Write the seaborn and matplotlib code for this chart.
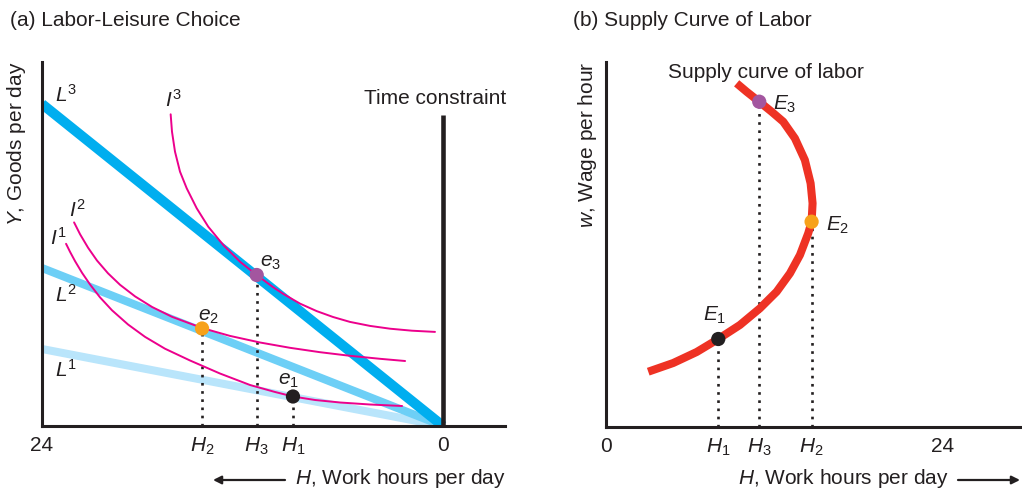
import matplotlib
matplotlib.use("Agg")
import matplotlib.pyplot as plt
import seaborn as sns

# ---------------- panel (a): labor-leisure choice ----------------
# hours worked H (24 on the left, 0 on the right), goods Y in arbitrary units
budget_labels = ["$L^1$", "$L^2$", "$L^3$"]
budget_goods_at_24 = [7.7, 15.8, 32.2]

equil_labels = ["$e_1$", "$e_2$", "$e_3$"]
hour_labels = ["$H_1$", "$H_2$", "$H_3$"]
equil_hours = [8.98, 14.42, 11.15]
equil_goods = [2.95, 9.75, 15.1]

indiff_labels = ["$I^1$", "$I^2$", "$I^3$"]
i1_hours = [22.56, 22.32, 22.02, 21.60, 21.12, 20.53, 19.81, 18.85, 17.83, 16.64,
            15.14, 13.35, 11.55, 10.05, 8.98, 7.66, 6.16, 4.37, 2.45]
i1_goods = [18.22, 17.41, 16.48, 15.31, 14.14, 12.87, 11.57, 10.15, 8.91, 7.73,
            6.55, 5.25, 4.10, 3.40, 2.95, 2.60, 2.35, 2.15, 2.00]
i2_hours = [22.08, 21.72, 21.24, 20.71, 20.05, 19.33, 18.43, 17.41, 16.22, 14.42,
            12.75, 10.95, 9.16, 7.36, 5.57, 3.77, 2.27]
i2_goods = [20.36, 19.17, 17.82, 16.55, 15.27, 14.12, 12.96, 11.90, 10.92, 9.80,
            9.01, 8.35, 7.82, 7.38, 7.02, 6.72, 6.50]
i3_hours = [16.30, 16.22, 16.04, 15.74, 15.34, 14.74, 14.05, 13.15, 12.15, 11.15,
            10.16, 9.56, 8.56, 7.56, 6.58, 5.57, 4.37, 3.17, 1.86, 0.48]
i3_goods = [31.17, 29.43, 27.43, 25.43, 23.77, 21.77, 19.93, 18.10, 16.43, 15.10,
            13.87, 13.21, 12.24, 11.49, 10.90, 10.41, 10.01, 9.73, 9.53, 9.41]

time_constraint_top = 31.1

# ---------------- panel (b): supply curve of labor ----------------
supply_hours = [3.01, 4.79, 6.46, 8.00, 9.54, 10.97, 12.16, 13.11, 13.82, 14.41,
                14.65, 14.72, 14.58, 14.17, 13.46, 12.63, 11.80, 10.92, 10.02, 9.31]
supply_wage = [5.53, 6.40, 7.50, 8.80, 10.20, 11.87, 13.53, 15.37, 17.20, 19.37,
               20.53, 22.37, 24.37, 26.70, 28.87, 30.53, 31.53, 32.53, 33.53, 34.37]

E_labels = ["$E_1$", "$E_2$", "$E_3$"]
E_hours = [8.00, 14.65, 10.92]
E_wage = [8.80, 20.53, 32.53]

# styles
BLUES = ["#b9e5fb", "#6dcff6", "#00aeef"]
BLUE_LW = [5.8, 5.8, 7.2]
MAGENTA = "#ec008c"
RED = "#ee3224"
INK = "#231f20"
DOT_COLORS = [INK, "#f7a11a", "#a3569f"]
FS = 15
DOTTED = (0, (1, 2.1))

sns.set_theme(style="white")
plt.rcParams["font.family"] = ["Liberation Sans", "DejaVu Sans"]
plt.rcParams["mathtext.fontset"] = "custom"
plt.rcParams["mathtext.rm"] = "Liberation Sans"
plt.rcParams["mathtext.it"] = "Liberation Sans:italic"

W, H = 1022, 490
fig = plt.figure(figsize=(W / 100, H / 100), dpi=100)


def px_axes(x0, y0, x1, y1):
    return fig.add_axes([x0 / W, 1 - y1 / H, (x1 - x0) / W, (y1 - y0) / H])


def style_axes(ax):
    for side in ["top", "right"]:
        ax.spines[side].set_visible(False)
    for side in ["left", "bottom"]:
        ax.spines[side].set_color(INK)
        ax.spines[side].set_linewidth(2.2)
    ax.set_yticks([])
    ax.tick_params(axis="x", length=0, pad=7, labelsize=FS, colors=INK)
    ax.set_xlabel("")
    ax.set_ylabel("")


def label(ax, x, y, s):
    ax.text(x, y, s, fontsize=FS, ha="left", va="center", color=INK)


# ---- left panel ----
axa = px_axes(42, 62, 505, 426)
axa.set_xlim(24, -3.71)
axa.set_ylim(0, 36.4)

for g, c, lw in zip(budget_goods_at_24, BLUES, BLUE_LW):
    sns.lineplot(x=[24, 0], y=[g, 0], ax=axa, color=c, linewidth=lw,
                 solid_capstyle="butt", sort=False, estimator=None, zorder=2)

for hh, gg in [(i1_hours, i1_goods), (i2_hours, i2_goods), (i3_hours, i3_goods)]:
    sns.lineplot(x=hh, y=gg, ax=axa, color=MAGENTA, linewidth=1.4,
                 solid_joinstyle="round", sort=False, estimator=None, zorder=3)

axa.vlines(equil_hours, 0, equil_goods, colors=INK, linewidth=1.9,
           linestyles=DOTTED, zorder=2)
axa.vlines(0, 0, time_constraint_top, colors=INK, linewidth=3.3, zorder=4)

sns.scatterplot(x=equil_hours, y=equil_goods, hue=equil_labels, palette=DOT_COLORS,
                s=105, linewidth=0, ax=axa, legend=False, zorder=5)

label(axa, 23.22, 33.1, budget_labels[2])
label(axa, 23.22, 13.1, budget_labels[1])
label(axa, 23.22, 5.6, budget_labels[0])
label(axa, 16.64, 32.6, indiff_labels[2])
label(axa, 22.38, 21.6, indiff_labels[1])
label(axa, 23.52, 18.8, indiff_labels[0])
label(axa, 9.87, 4.6, equil_labels[0])
label(axa, 14.66, 11.0, equil_labels[1])
label(axa, 10.95, 16.4, equil_labels[2])
axa.text(0.5, 32.8, "Time constraint", fontsize=FS, ha="center", va="center", color=INK)

axa.set_xticks([24] + equil_hours + [0])
axa.set_xticklabels(["24"] + hour_labels + ["0"])
style_axes(axa)

# ---- right panel ----
axb = px_axes(606, 62, 1020, 427)
axb.set_xlim(0, 29.5)
axb.set_ylim(0, 36.5)

sns.lineplot(x=supply_hours, y=supply_wage, ax=axb, color=RED, linewidth=5.8,
             solid_capstyle="butt", solid_joinstyle="round", sort=False,
             estimator=None, zorder=3)
axb.vlines(E_hours, 0, E_wage, colors=INK, linewidth=1.9,
           linestyles=DOTTED, zorder=2)
sns.scatterplot(x=E_hours, y=E_wage, hue=E_labels, palette=DOT_COLORS,
                s=105, linewidth=0, ax=axb, legend=False, zorder=5)

label(axb, 6.91, 11.2, E_labels[0])
label(axb, 15.67, 20.2, E_labels[1])
label(axb, 11.89, 32.3, E_labels[2])
label(axb, 4.42, 35.5, "Supply curve of labor")

axb.set_xticks([0] + E_hours + [24])
axb.set_xticklabels(["0"] + hour_labels + ["24"])
style_axes(axb)

# ---- titles, axis labels, arrows ----
fig.text(10 / W, 1 - 20 / H, "(a) Labor-Leisure Choice", fontsize=FS,
         ha="left", va="center", color=INK)
fig.text(573 / W, 1 - 20 / H, "(b) Supply Curve of Labor", fontsize=FS,
         ha="left", va="center", color=INK)

fig.text(17 / W, 1 - 62 / H, "$Y$, Goods per day", fontsize=FS, rotation=90,
         ha="center", va="top", color=INK)
fig.text(587 / W, 1 - 62 / H, "$w$, Wage per hour", fontsize=FS, rotation=90,
         ha="center", va="top", color=INK)

fig.text(506 / W, 1 - 478 / H, "$H$, Work hours per day", fontsize=FS,
         ha="right", va="center", color=INK)
fig.text(738 / W, 1 - 478 / H, "$H$, Work hours per day", fontsize=FS,
         ha="left", va="center", color=INK)

arrow = dict(arrowstyle="-|>", color=INK, lw=1.6, mutation_scale=12,
             shrinkA=0, shrinkB=0)
axa.annotate("", xy=(213 / W, 1 - 480 / H), xytext=(285 / W, 1 - 480 / H),
             xycoords="figure fraction", textcoords="figure fraction",
             arrowprops=arrow, annotation_clip=False)
axb.annotate("", xy=(1020 / W, 1 - 480 / H), xytext=(958 / W, 1 - 480 / H),
             xycoords="figure fraction", textcoords="figure fraction",
             arrowprops=arrow, annotation_clip=False)

fig.savefig("out.png", dpi=100, facecolor="white")
